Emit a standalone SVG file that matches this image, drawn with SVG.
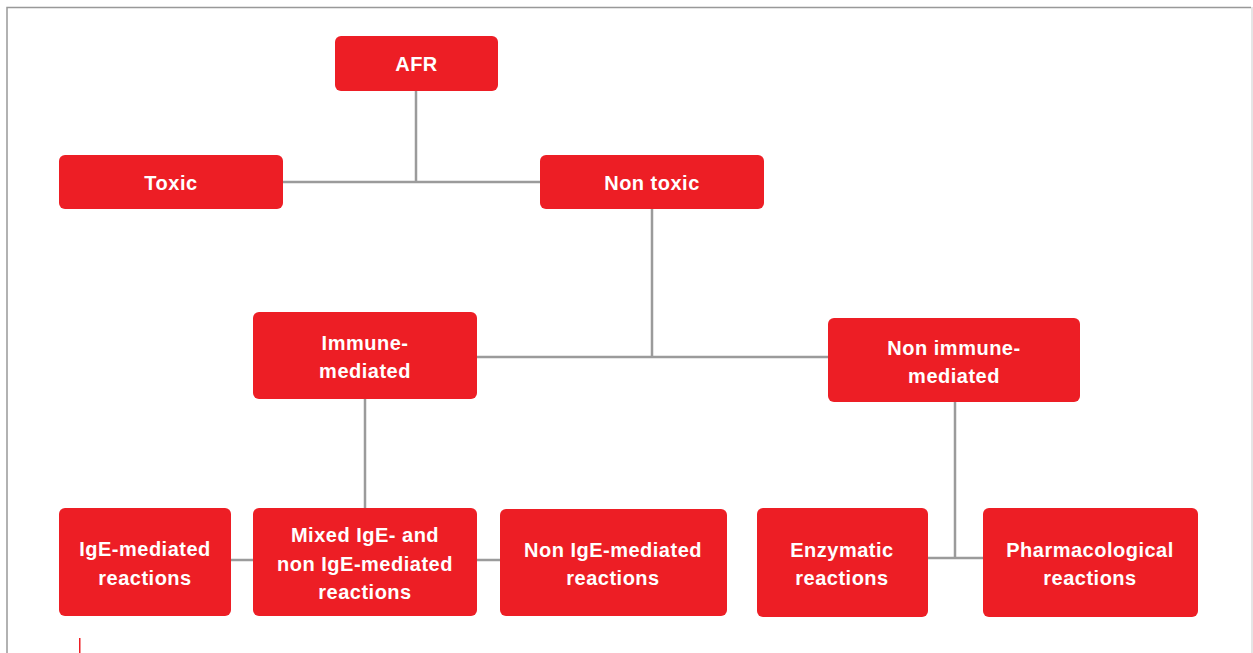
<svg xmlns="http://www.w3.org/2000/svg" width="1253" height="653" viewBox="0 0 1253 653">
<style>
.box{fill:#ED1E25}
.t{font-family:"Liberation Sans",Arial,sans-serif;font-weight:bold;font-size:20px;fill:#fff;text-anchor:middle;letter-spacing:0.5px}
.c{stroke:#9b9b9b;stroke-width:2.5;fill:none}
</style>
<rect x="0" y="0" width="1253" height="653" fill="#fff"/>
<path d="M7 653 V7.5 H1251" fill="none" stroke="#999" stroke-width="1.5"/>
<line x1="1252" y1="7" x2="1252" y2="653" stroke="#ddd" stroke-width="1.5"/>
<rect x="79" y="638" width="1.5" height="15" fill="#ED1E25"/>
<g id="connectors">
<path class="c" d="M416 91 V182 M283 182 H540"/>
<path class="c" d="M652 209 V357 M477 357 H828"/>
<path class="c" d="M365 399 V508"/>
<path class="c" d="M231 560 H253 M477 560 H500"/>
<path class="c" d="M955 402 V558 M928 558 H983"/>
</g>
<g id="afr"><rect class="box" x="335" y="36" width="163" height="55" rx="6"/><text class="t" x="416.5" y="71">AFR</text></g>
<g id="toxic"><rect class="box" x="59" y="155" width="224" height="54" rx="6"/><text class="t" x="171" y="190">Toxic</text></g>
<g id="nontoxic"><rect class="box" x="540" y="155" width="224" height="54" rx="6"/><text class="t" x="652" y="190">Non toxic</text></g>
<g id="immune"><rect class="box" x="253" y="312" width="224" height="87" rx="6"/><text class="t" x="365" y="350">Immune-</text><text class="t" x="365" y="378">mediated</text></g>
<g id="nonimmune"><rect class="box" x="828" y="318" width="252" height="84" rx="6"/><text class="t" x="954" y="355">Non immune-</text><text class="t" x="954" y="383">mediated</text></g>
<g id="ige"><rect class="box" x="59" y="508" width="172" height="108" rx="6"/><text class="t" x="145" y="556">IgE-mediated</text><text class="t" x="145" y="585">reactions</text></g>
<g id="mixed"><rect class="box" x="253" y="508" width="224" height="108" rx="6"/><text class="t" x="365" y="542">Mixed IgE- and</text><text class="t" x="365" y="571">non IgE-mediated</text><text class="t" x="365" y="599">reactions</text></g>
<g id="nonige"><rect class="box" x="500" y="509" width="227" height="107" rx="6"/><text class="t" x="613" y="557">Non IgE-mediated</text><text class="t" x="613" y="585">reactions</text></g>
<g id="enzymatic"><rect class="box" x="757" y="508" width="171" height="109" rx="6"/><text class="t" x="842" y="557">Enzymatic</text><text class="t" x="842" y="585">reactions</text></g>
<g id="pharma"><rect class="box" x="983" y="508" width="215" height="109" rx="6"/><text class="t" x="1090" y="557">Pharmacological</text><text class="t" x="1090" y="585">reactions</text></g>
</svg>
